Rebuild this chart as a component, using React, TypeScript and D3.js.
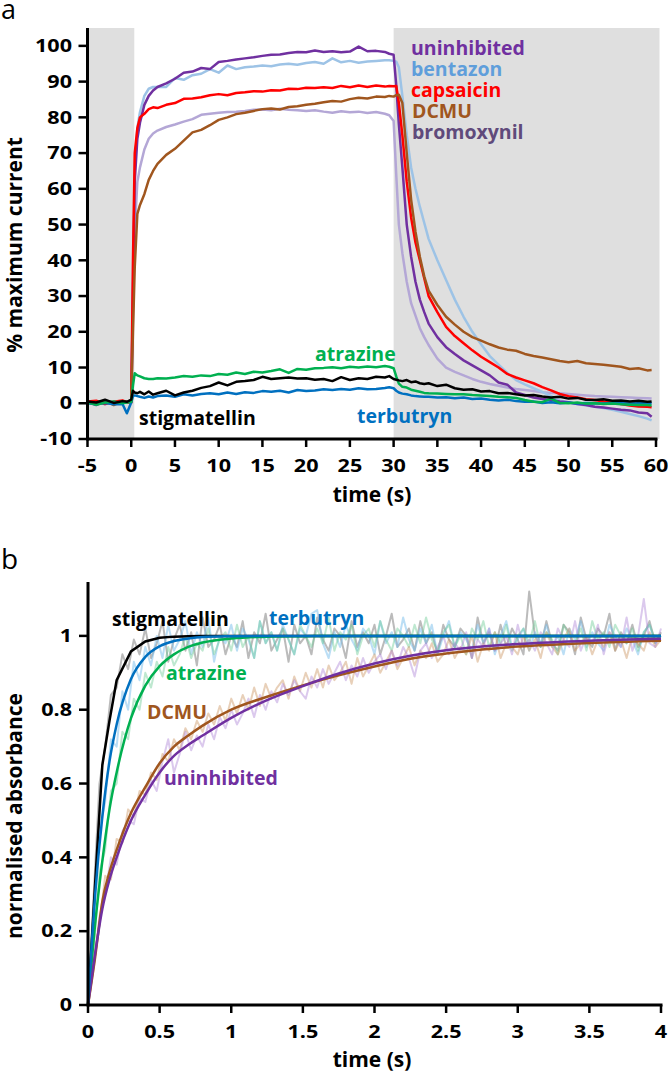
import React from 'react';
import * as d3 from 'd3';

const FONT = "'Open Sans', 'DejaVu Sans', sans-serif";

// ---------- Panel a: % maximum current vs time (s) ----------
const timeA = [-5, -4, -3, -2, -1, -0.5, 0, 0.2, 0.4, 0.7, 1, 1.5, 2, 2.5, 3,
  4, 5, 6, 7, 8, 9, 10, 11, 12, 13, 14, 15, 16, 17, 18, 19, 20, 21, 22, 23, 24, 25, 26, 27, 28, 29,
  29.5, 30, 30.3, 30.6, 31, 31.5, 32, 32.5, 33, 33.5, 34,
  35, 36, 37, 38, 39, 40, 41, 42, 43, 44, 45, 46, 47, 48, 49, 50, 51, 52, 53, 54, 55, 56, 57, 58, 59, 59.5];

const uninhibitedA = [0.3, -0.5, 0.6, 0.2, 0.5, 0.3, 0.5,
  30, 62, 74, 78.5, 83.5, 86, 87.5, 88.5,
  89.5, 90.8, 92.5, 92.8, 93.8, 93.5, 95.5, 95.8, 96.2, 96.5, 96.8, 97.2, 97.5, 97.6, 98.0, 98.3, 98.2, 98.7, 98.3, 98.5, 98.2, 98.4, 99.8, 98.5, 98.6, 98.3,
  97.8, 97.5, 89, 78, 66, 50, 41, 34, 29, 25.5, 22.3,
  18.5, 15.7, 13.8, 12, 10.6, 9.2, 7.8, 5.8, 5.2, 3.0, 2.3, 1.6, 1.2, 0.9, 0.5, 0.3, -0.2, -0.5, -1, -1.2, -1.5, -1.8, -2.0, -2.6, -2.8, -3.8];

const bentazonA = [0.2, -0.3, 0.4, 0.0, 0.3, 0.2, 0.3,
  35, 66, 77, 81.5, 86, 88, 88.5, 88.5,
  88.5, 91, 90.5, 91.8, 92.2, 93.5, 92.5, 94.5, 93.5, 94, 94.2, 94.5, 94.3, 94.8, 95, 94.7, 95.2, 95.5, 95, 96.5, 95.4, 95.8, 95.3, 95.6, 95.8, 96,
  96, 95.8, 95.6, 94, 86, 75, 66, 60, 55, 50.5, 46,
  40, 34.5, 29, 24.2, 20, 16.5, 13.2, 10.8, 8.5, 6.5, 5.3, 4.2, 3.2, 2.0, 0.8, 0.2, -0.2, -0.6, -1.0, -1.3, -1.8, -2.4, -3.0, -3.6, -4.3, -4.8];

const capsaicinA = [0.5, 0.7, -0.2, 0.4, 0.8, 0.3, 0.2,
  40, 70, 77, 80, 81, 82.3, 82.8, 82.6,
  83.5, 84, 85.2, 85.3, 85.6, 86.2, 86.5, 86.2, 86.8, 87, 87.3, 87.2, 87.6, 87.5, 88, 87.9, 88.3, 88.2, 88.4, 88.2, 88.8, 88.4, 88.9, 88.5, 88.9, 88.6,
  88.8, 88.7, 88.8, 84, 75, 62, 52, 45, 40, 35, 30,
  25.5, 21.4, 18.8, 16.8, 14.8, 13, 11.5, 10, 8.2, 7.2, 6.4, 5.6, 4.5, 3.6, 2.6, 2.0, 1.6, 1.1, 0.9, 0.5, 0.2, -0.2, -0.6, -0.9, -1.0, -1.1];

const dcmuA = [0.3, 0.2, 0.8, -0.5, 0.6, 0.4, 0.3,
  20, 38, 53, 55.5, 58.5, 62.5, 65, 67,
  69.5, 71.2, 73.5, 75.8, 76.5, 77.8, 79.3, 80.0, 80.9, 81.3, 81.8, 82.3, 82.5, 82.2, 82.9, 83.1, 83.5, 83.8, 84.2, 84.6, 84.4, 85.1, 85.5, 85.3, 85.8, 85.7,
  86, 85.8, 86.2, 86.3, 84, 70, 57, 48, 41, 35.5, 31.5,
  27.5, 24.2, 22, 20, 18.5, 17.5, 16.5, 15.6, 15, 14.7, 13.8, 13.2, 12.8, 12.3, 11.8, 11.5, 11.8, 11.2, 11, 10.8, 10.5, 10.2, 9.6, 9.8, 9.2, 9.3];

const bromoxynilA = [0.1, 0.4, -0.3, 0.5, 0.2, 0.4, 0.2,
  25, 48, 62, 66, 71, 74, 75.5, 76.3,
  77.3, 78, 78.8, 79.5, 80.7, 81, 81.3, 81.5, 81.6, 81.8, 82.1, 82.2, 82, 82.4, 82.1, 82, 81.8, 82, 81.6, 81.3, 81.7, 81.4, 81.6, 81.2, 81.5, 81,
  80.6, 79, 64, 50, 42, 34, 28, 24.5, 21, 18.5, 16.3,
  12.5, 10, 8.8, 7.8, 6.8, 6.0, 5.4, 4.9, 4.4, 4.0, 3.7, 3.4, 3.1, 2.9, 2.8, 2.6, 2.4, 2.2, 2.0, 1.9, 1.8, 1.7, 1.6, 1.5, 1.4, 1.3];

const atrazineA = [0.3, -0.4, 0.2, 0.5, 0.0, 0.2, 0.4,
  5, 8.4, 7.8, 7.5, 7.0, 6.8, 6.8, 7.0,
  6.9, 7.2, 7.6, 7.4, 7.8, 7.6, 8.2, 8.0, 8.6, 8.2, 8.8, 8.6, 9.0, 9.5, 8.5, 9.6, 9.4, 9.8, 9.9, 10.1, 9.8, 10.2, 10.0, 10.3, 10.1, 10.4,
  10.2, 9.8, 7.5, 5.5, 4.6, 4.4, 3.8, 3.5, 3.2, 2.9, 2.8,
  2.7, 2.6, 2.5, 2.5, 2.3, 2.2, 2.0, 1.8, 1.7, 1.5, 0.9, 0.4, 0.3, 1.3, 0.1, 0.0, 0.2, -0.1, 0.0, -0.2, -0.1, -0.3, -0.4, -0.5, -0.5, -0.6];

const stigmatellinA = [0.5, 0.2, 1.0, 0.1, 0.6, 0.4, 1.0,
  3.5, 3.0, 2.8, 3.2, 2.5, 3.3, 2.4, 2.8,
  3.5, 2.2, 3.0, 3.5, 4.3, 4.8, 5.8, 5.0, 6.0, 6.2, 6.5, 7.4, 6.8, 7.0, 7.2, 6.9, 7.0, 6.6, 6.8, 6.2, 7.3, 6.5, 7.0, 6.8, 7.4, 7.2,
  7.6, 6.8, 6.6, 6.4, 6.2, 6.5, 5.9, 6.1, 5.6, 5.4, 5.6,
  4.8, 5.2, 4.2, 3.8, 3.9, 3.3, 3.4, 2.8, 2.9, 2.5, 2.2, 2.3, 1.9, 1.6, 1.8, 1.3, 1.5, 1.0, 0.9, 1.1, 0.7, 0.8, 0.5, 0.7, 0.4, 0.5];

const terbutrynA = [0.0, -0.2, 0.1, -0.3, -0.2, -2.8, 0.2,
  2.0, 2.2, 2.0, 1.8, 1.5, 1.9, 1.6, 2.0,
  2.2, 1.8, 2.5, 2.2, 2.6, 2.8, 2.5, 3.0, 2.6, 3.1, 2.9, 3.4, 3.2, 3.5, 3.0, 3.7, 3.4, 3.6, 3.9, 3.7, 4.0, 3.8, 4.2, 3.9, 4.0, 4.3,
  4.5, 4.2, 3.5, 3.0, 2.7, 2.5, 2.2, 2.0, 1.9, 1.8, 1.8,
  1.6, 1.7, 1.4, 1.6, 1.2, 1.3, 1.0, 0.8, 1.0, 0.6, 0.4, 0.5, 0.1, 0.3, 0.0, 0.2, -0.1, 0.1, 0.0, -0.1, 0.1, 0.0, -0.1, 0.0, 0.1, 0.0];

const xTicksA = [-5, 0, 5, 10, 15, 20, 25, 30, 35, 40, 45, 50, 55, 60];
const yTicksA = [-10, 0, 10, 20, 30, 40, 50, 60, 70, 80, 90, 100];
const shadedA = [[-5, 0.35], [30, 60.4]];

// ---------- Panel b: normalised absorbance vs time (s) ----------
const fitTime = [0, 0.05, 0.1, 0.15, 0.2, 0.3, 0.4, 0.5, 0.6, 0.7, 0.8, 1.0, 1.25, 1.5, 1.75, 2.0, 2.25, 2.5, 2.75, 3.0, 3.5, 4.0];
const stigmatellinFit = [0, 0.33, 0.65, 0.77, 0.88, 0.958, 0.985, 0.995, 0.998, 0.999, 1, 1, 1, 1, 1, 1, 1, 1, 1, 1, 1, 1];
const terbutrynFit = [0, 0.30, 0.51, 0.66, 0.76, 0.883, 0.943, 0.972, 0.986, 0.993, 0.997, 0.999, 1, 1, 1, 1, 1, 1, 1, 1, 1, 1];
const atrazineFit = [0, 0.22, 0.39, 0.53, 0.63, 0.777, 0.865, 0.918, 0.95, 0.97, 0.982, 0.993, 0.998, 0.999, 1, 1, 1, 1, 1, 1, 1, 1];
const dcmuFit = [0, 0.13, 0.28, 0.36, 0.42, 0.52, 0.59, 0.655, 0.70, 0.73, 0.757, 0.80, 0.835, 0.866, 0.893, 0.917, 0.938, 0.952, 0.963, 0.971, 0.981, 0.987];
const uninhibitedFit = [0, 0.14, 0.26, 0.34, 0.40, 0.50, 0.57, 0.63, 0.675, 0.705, 0.73, 0.778, 0.826, 0.864, 0.898, 0.925, 0.946, 0.961, 0.971, 0.978, 0.987, 0.992];

const rawStep = 0.04; // raw traces sampled every 0.04 s from 0 to 4 s
const stigmatellinRaw = [0, 0.30, 0.60, 0.70, 0.84, 0.86, 0.95, 0.91, 0.99, 0.95,
  1.02, 0.94, 0.98, 1.04, 0.93, 0.99, 1.03, 0.96, 1.01, 0.92,
  1.05, 0.97, 0.99, 1.03, 0.95, 1.00, 0.97, 1.04, 0.94, 1.01,
  0.98, 1.06, 0.96, 0.99, 1.02, 0.93, 1.03, 0.98, 1.00, 0.95,
  1.05, 0.99, 0.96, 1.02, 1.00, 0.94, 1.04, 0.97, 1.01, 0.98,
  1.03, 0.95, 1.00, 1.06, 0.97, 0.99, 1.02, 0.96, 1.04, 0.98,
  1.01, 0.95, 1.03, 0.99, 0.97, 1.02, 1.00, 0.94, 1.05, 0.98,
  1.01, 0.96, 1.03, 0.97, 1.02, 0.99, 0.95, 1.12, 1.00, 0.97,
  1.04, 0.98, 0.96, 1.03, 1.01, 0.95, 1.05, 0.99, 0.97, 1.02,
  1.00, 1.06, 0.96, 1.01, 0.98, 1.03, 0.97, 1.00, 1.04, 0.98, 1.01];
const terbutrynRaw = [0, 0.22, 0.47, 0.55, 0.72, 0.70, 0.85, 0.80, 0.93, 0.88,
  0.97, 0.92, 1.00, 0.94, 1.03, 0.96, 0.99, 1.04, 0.95, 1.01,
  0.97, 1.05, 0.93, 1.00, 0.98, 1.03, 0.96, 1.02, 0.99, 0.94,
  1.04, 0.98, 1.01, 0.96, 1.03, 0.99, 0.95, 1.02, 1.00, 1.06,
  1.07, 0.98, 0.94, 1.01, 0.97, 1.03, 0.99, 0.96, 1.02, 1.00,
  0.95, 1.04, 0.98, 1.01, 0.97, 1.05, 0.99, 0.96, 1.02, 0.98,
  1.03, 0.95, 1.00, 1.04, 0.97, 1.01, 0.99, 0.96, 1.03, 0.98,
  1.02, 0.95, 1.00, 1.04, 0.97, 0.99, 1.02, 0.96, 1.01, 0.98,
  1.03, 0.97, 1.00, 0.95, 1.02, 0.99, 1.04, 0.97, 1.01, 0.98,
  0.96, 1.03, 1.00, 0.97, 1.02, 0.99, 0.95, 1.01, 1.03, 0.98, 1.00];
const atrazineRaw = [0, 0.15, 0.36, 0.42, 0.58, 0.60, 0.74, 0.72, 0.83, 0.80,
  0.90, 0.86, 0.93, 0.89, 0.97, 0.92, 0.95, 1.00, 0.94, 0.98,
  0.96, 1.02, 0.95, 0.99, 1.01, 0.96, 1.03, 0.97, 1.00, 0.94,
  1.04, 0.98, 1.01, 0.96, 1.02, 0.99, 0.95, 1.03, 1.00, 0.97,
  1.02, 0.98, 1.05, 0.96, 1.01, 0.99, 1.03, 0.95, 1.00, 1.02,
  0.97, 1.04, 0.99, 0.96, 1.02, 1.00, 0.97, 1.03, 0.98, 1.05,
  0.99, 0.96, 1.01, 1.03, 0.97, 1.00, 0.95, 1.02, 0.99, 1.04,
  0.97, 1.01, 0.98, 1.03, 0.96, 1.00, 1.02, 0.98, 1.04, 0.97,
  1.01, 0.99, 0.95, 1.03, 1.00, 0.98, 1.02, 0.96, 1.04, 0.99,
  1.01, 0.97, 1.03, 1.00, 0.98, 1.02, 0.96, 1.01, 1.03, 0.99, 1.00];
const dcmuRaw = [0, 0.12, 0.22, 0.35, 0.34, 0.45, 0.44, 0.53, 0.51, 0.58,
  0.57, 0.63, 0.61, 0.68, 0.66, 0.72, 0.69, 0.75, 0.72, 0.77,
  0.74, 0.79, 0.76, 0.81, 0.77, 0.83, 0.79, 0.84, 0.80, 0.86,
  0.81, 0.87, 0.83, 0.86, 0.88, 0.83, 0.89, 0.85, 0.90, 0.86,
  0.91, 0.86, 0.92, 0.88, 0.90, 0.93, 0.87, 0.94, 0.89, 0.92,
  0.95, 0.90, 0.93, 0.96, 0.91, 0.94, 0.97, 0.92, 0.96, 0.94,
  0.98, 0.93, 0.95, 0.99, 0.94, 0.97, 0.95, 1.00, 0.93, 0.98,
  0.96, 1.01, 0.94, 0.98, 0.97, 0.95, 1.00, 0.96, 0.99, 0.94,
  1.01, 0.97, 0.95, 0.99, 1.02, 0.96, 0.98, 1.00, 0.95, 0.99,
  0.97, 1.01, 0.96, 0.99, 0.94, 1.00, 0.98, 0.96, 1.01, 0.97, 0.99];
const uninhibitedRaw = [0, 0.10, 0.24, 0.30, 0.40, 0.38, 0.47, 0.50, 0.49, 0.56,
  0.55, 0.61, 0.58, 0.66, 0.72, 0.63, 0.68, 0.74, 0.69, 0.73,
  0.70, 0.76, 0.72, 0.78, 0.75, 0.80, 0.76, 0.79, 0.83, 0.78,
  0.84, 0.80, 0.85, 0.82, 0.87, 0.84, 0.88, 0.85, 0.83, 0.89,
  0.86, 0.91, 0.87, 0.90, 0.93, 0.88, 0.92, 0.89, 0.94, 0.90,
  0.93, 0.95, 0.91, 0.96, 0.92, 0.97, 0.94, 0.89, 0.96, 0.98,
  0.94, 0.97, 1.00, 0.95, 0.98, 0.96, 1.01, 0.94, 0.99, 0.97,
  1.02, 0.96, 0.98, 1.00, 0.95, 1.03, 0.97, 0.99, 0.96, 1.01,
  0.98, 0.95, 1.02, 0.99, 0.97, 1.04, 0.96, 1.00, 0.98, 1.03,
  0.95, 1.01, 0.99, 0.97, 1.05, 0.96, 1.00, 1.10, 0.98, 0.97, 1.02];

const xTicksB = [0, 0.5, 1, 1.5, 2, 2.5, 3, 3.5, 4];
const yTicksB = [0, 0.2, 0.4, 0.6, 0.8, 1];

const C = {
  purple: '#7030A0', ltblue: '#9DC3E6', bentLabel: '#5F9EDB', red: '#FF0000', brown: '#A0561E',
  lavender: '#B4A7D6', bromoLabel: '#604A7B', green: '#00B050', blue: '#0070C0', black: '#000000', shade: '#DFDFDF',
};

type LP = { x: number; y: number; children: React.ReactNode; size?: number; fill?: string; weight?: number; anchor?: string; sx?: number; rot?: number };
const Label = ({ x, y, children, size = 19.5, fill = '#000', weight = 700, anchor = 'start', sx = 1, rot = 0 }: LP) => (
  <text transform={`translate(${x},${y}) rotate(${rot}) scale(${sx},1)`} fontFamily={FONT} fontSize={size}
    fontWeight={weight} fill={fill} textAnchor={anchor as any}>{children}</text>
);

export default function App() {
  const xa = d3.scaleLinear().domain([-5, 60]).range([87.5, 656]);
  const ya = d3.scaleLinear().domain([-10, 105]).range([439, 28]);
  const xb = d3.scaleLinear().domain([0, 4]).range([88, 661]);
  const yb = d3.scaleLinear().domain([0, 1.146]).range([1005, 582]);

  const lineA = d3.line<number>().x((_, i) => xa(timeA[i])).y(d => ya(d));
  const lineFit = d3.line<number>().x((_, i) => xb(fitTime[i])).y(d => yb(d)).curve(d3.curveMonotoneX);
  const lineFitLin = d3.line<number>().x((_, i) => xb(fitTime[i])).y(d => yb(d));
  const lineRaw = d3.line<number>().x((_, i) => xb(i * rawStep)).y(d => yb(d));

  const seriesA: [number[], string][] = [
    [bromoxynilA, C.lavender], [bentazonA, C.ltblue], [uninhibitedA, C.purple], [capsaicinA, C.red], [dcmuA, C.brown],
    [terbutrynA, C.blue], [atrazineA, C.green], [stigmatellinA, C.black],
  ];
  const raws: [number[], string][] = [
    [stigmatellinRaw, 'rgba(120,120,120,0.5)'], [terbutrynRaw, 'rgba(120,190,235,0.5)'], [atrazineRaw, 'rgba(110,205,150,0.45)'],
    [dcmuRaw, 'rgba(205,150,100,0.45)'], [uninhibitedRaw, 'rgba(175,135,215,0.45)'],
  ];

  const tickStyle = { size: 17, sx: 1.27 };
  const axisW = 3;

  return (
    <svg width={668} height={1079} style={{ position: 'absolute', left: 0, top: 0, background: '#fff' }}>
      {/* ---------------- Panel a ---------------- */}
      <Label x={1} y={19} size={27} weight={400}>a</Label>
      {shadedA.map(([a, b], i) => (
        <rect key={i} x={xa(a)} y={ya(105)} width={xa(b) - xa(a)} height={ya(-10) - ya(105)} fill={C.shade} />
      ))}
      {seriesA.map(([d, c], i) => (
        <path key={i} d={lineA(d) || ''} fill="none" stroke={c} strokeWidth={2.5} strokeLinejoin="round" />
      ))}
      <line x1={xa(-5)} x2={xa(-5)} y1={ya(105)} y2={ya(-10) + 1.5} stroke="#000" strokeWidth={axisW} />
      <line x1={xa(-5)} x2={xa(60) + 1.5} y1={ya(-10)} y2={ya(-10)} stroke="#000" strokeWidth={axisW} />
      {yTicksA.map(t => (
        <g key={t}>
          <line x1={xa(-5) - 9} x2={xa(-5)} y1={ya(t)} y2={ya(t)} stroke="#000" strokeWidth={2.5} />
          <Label x={72} y={ya(t) + 6.2} anchor="end" {...tickStyle}>{String(t)}</Label>
        </g>
      ))}
      {xTicksA.map(t => (
        <g key={t}>
          <line x1={xa(t)} x2={xa(t)} y1={ya(-10)} y2={ya(-10) + 8} stroke="#000" strokeWidth={2.5} />
          <Label x={xa(t)} y={472} anchor="middle" {...tickStyle}>{String(t)}</Label>
        </g>
      ))}
      <Label x={372} y={502} size={21} anchor="middle">time (s)</Label>
      <Label x={21.5} y={245} size={21} anchor="middle" rot={-90}>% maximum current</Label>

      <Label x={411} y={55} fill={C.purple}>uninhibited</Label>
      <Label x={411} y={76} fill={C.bentLabel}>bentazon</Label>
      <Label x={411} y={97} fill={C.red}>capsaicin</Label>
      <Label x={412} y={118} fill={C.brown}>DCMU</Label>
      <Label x={412} y={139} fill={C.bromoLabel}>bromoxynil</Label>
      <Label x={139} y={425} fill={C.black}>stigmatellin</Label>
      <Label x={315} y={361} fill={C.green}>atrazine</Label>
      <Label x={357} y={423} fill={C.blue}>terbutryn</Label>

      {/* ---------------- Panel b ---------------- */}
      <Label x={1} y={569} size={28} weight={400}>b</Label>
      {raws.map(([d, c], i) => (
        <path key={i} d={lineRaw(d) || ''} fill="none" stroke={c} strokeWidth={2} strokeLinejoin="round" />
      ))}
      <path d={lineFitLin(stigmatellinFit) || ''} fill="none" stroke={C.black} strokeWidth={2.5} />
      <path d={lineFit(atrazineFit) || ''} fill="none" stroke={C.green} strokeWidth={2.5} />
      <path d={lineFit(dcmuFit) || ''} fill="none" stroke={C.brown} strokeWidth={2.5} />
      <path d={lineFit(uninhibitedFit) || ''} fill="none" stroke={C.purple} strokeWidth={2.5} />
      <path d={lineFit(terbutrynFit) || ''} fill="none" stroke={C.blue} strokeWidth={2.5} />

      <line x1={xb(0)} x2={xb(0)} y1={582} y2={yb(0) + 1.5} stroke="#000" strokeWidth={axisW} />
      <line x1={xb(0)} x2={xb(4) + 1.5} y1={yb(0)} y2={yb(0)} stroke="#000" strokeWidth={axisW} />
      {yTicksB.map(t => (
        <g key={t}>
          <line x1={xb(0) - 9} x2={xb(0)} y1={yb(t)} y2={yb(t)} stroke="#000" strokeWidth={2.5} />
          <Label x={72} y={yb(t) + 6.2} anchor="end" {...tickStyle}>{String(t)}</Label>
        </g>
      ))}
      {xTicksB.map(t => (
        <g key={t}>
          <line x1={xb(t)} x2={xb(t)} y1={yb(0)} y2={yb(0) + 8} stroke="#000" strokeWidth={2.5} />
          <Label x={xb(t)} y={1038} anchor="middle" {...tickStyle}>{String(t)}</Label>
        </g>
      ))}
      <Label x={372} y={1067} size={21} anchor="middle">time (s)</Label>
      <Label x={21.5} y={816} size={21} anchor="middle" rot={-90}>normalised absorbance</Label>

      <Label x={112} y={626} fill={C.black}>stigmatellin</Label>
      <Label x={269} y={625} fill={C.blue}>terbutryn</Label>
      <Label x={166} y={680} fill={C.green}>atrazine</Label>
      <Label x={147} y={719} fill={C.brown}>DCMU</Label>
      <Label x={164} y={785} fill={C.purple}>uninhibited</Label>
    </svg>
  );
}
